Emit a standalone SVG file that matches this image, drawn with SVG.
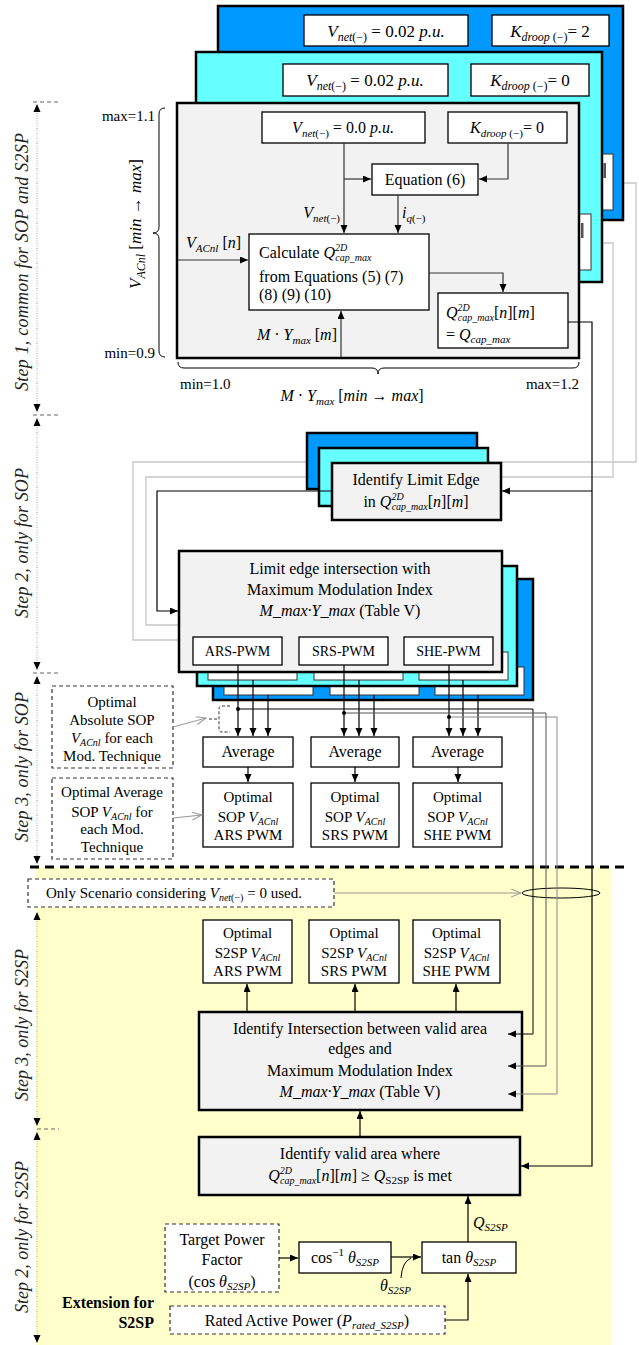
<svg xmlns="http://www.w3.org/2000/svg" width="639" height="1345" viewBox="0 0 639 1345">
<defs>
<style>
text{font-family:"Liberation Serif","Times New Roman",serif;fill:#000}
.t14{font-size:14px}.t15{font-size:15px}.t16{font-size:16px}.t17{font-size:17px}
.i{font-style:italic}
.box{fill:#fff;stroke:#000;stroke-width:1.3}
.wbox{fill:#fff;stroke:#333;stroke-width:1}
.gbox{fill:#f2f2f2;stroke:#000;stroke-width:2.5}
.cy{fill:#66ffff;stroke:#000;stroke-width:2.5}
.db{fill:#0099ff;stroke:#000;stroke-width:2.5}
.dash{fill:#fff;stroke:#333;stroke-width:1.2;stroke-dasharray:4 3}
.c{fill:none;stroke:#000;stroke-width:1.2}
.cg{fill:none;stroke:#333;stroke-width:1.2}
.lg{fill:none;stroke:#c8c8c8;stroke-width:1.3}
.step{font-size:18px;font-style:italic;fill:#222}
.dot{fill:none;stroke:#aaa;stroke-width:1;stroke-dasharray:1 1.5}
.tick{fill:none;stroke:#666;stroke-width:1.2;stroke-dasharray:4 3}
.ah{fill:#000}
</style>
<marker id="ah" markerUnits="userSpaceOnUse" markerWidth="9" markerHeight="8" refX="8" refY="3.5" orient="auto"><path d="M0,0 L8,3.5 L0,7 z" fill="#000"/></marker>
<marker id="oa" markerUnits="userSpaceOnUse" markerWidth="12" markerHeight="10" refX="10" refY="4" orient="auto"><path d="M0,0 L10,4 L0,8" fill="none" stroke="#999" stroke-width="1"/></marker>
</defs>

<rect id="s2sp-region" x="36" y="867" width="576" height="478" fill="#ffffcc"/>

<g id="step-indicators">
<path class="dot" d="M37,108 V406 M37,422 V664 M37,680 V858 M37,916 V1120 M37,1136 V1338"/>
<path class="tick" d="M33,102 H58 M33,415 H58 M33,673 H58 M37,1129 H59"/>
<path class="ah" d="M37,104 L33.5,112 L40.5,112 z M37,412 L33.5,404 L40.5,404 z M37,418 L33.5,426 L40.5,426 z M37,670 L33.5,662 L40.5,662 z M37,676 L33.5,684 L40.5,684 z M37,864 L33.5,856 L40.5,856 z M37,912 L33.5,920 L40.5,920 z M37,1126 L33.5,1118 L40.5,1118 z M37,1132 L33.5,1140 L40.5,1140 z M37,1343 L33.5,1335 L40.5,1335 z"/>
<text class="step" transform="translate(28,262) rotate(-90)" text-anchor="middle" textLength="258">Step 1, common for SOP and S2SP</text>
<text class="step" transform="translate(28,543) rotate(-90)" text-anchor="middle" textLength="150">Step 2, only for SOP</text>
<text class="step" transform="translate(28,767) rotate(-90)" text-anchor="middle" textLength="150">Step 3, only for SOP</text>
<text class="step" transform="translate(28,1025) rotate(-90)" text-anchor="middle" textLength="152">Step 3, only for S2SP</text>
<text class="step" transform="translate(28,1237) rotate(-90)" text-anchor="middle" textLength="152">Step 2, only for S2SP</text>
</g>
<path d="M30,867 H625" fill="none" stroke="#000" stroke-width="3" stroke-dasharray="9 6"/>

<g id="connectors-back">
<path class="lg" d="M613,183 H636 V462 H133 V640 H200"/>
<path class="lg" d="M591,243 H613 V477 H146 V625 H200"/>
</g>

<g id="layer-kdroop2">
<rect class="db" x="218" y="6" width="405" height="214"/>
<rect class="box" x="304" y="15" width="164" height="31"/>
<text class="t17" x="386" y="37" text-anchor="middle"><tspan class="i">V</tspan><tspan class="i" font-size="12" dy="4">net</tspan><tspan font-size="12">(−)</tspan><tspan dy="-4"> = 0.02 </tspan><tspan class="i">p.u.</tspan></text>
<rect class="box" x="492" y="15" width="117" height="31"/>
<text class="t17" x="550" y="37" text-anchor="middle"><tspan class="i">K</tspan><tspan class="i" font-size="12" dy="4">droop</tspan><tspan font-size="12"> (−)</tspan><tspan dy="-4">= 2</tspan></text>
<rect class="wbox" x="590" y="154" width="23" height="56"/>
<rect x="603.5" y="163" width="2.5" height="15" fill="#555"/>
</g>
<g id="layer-kdroop0">
<rect class="cy" x="196" y="52" width="406" height="230"/>
<rect class="box" x="283" y="64" width="165" height="32"/>
<text class="t17" x="365" y="86" text-anchor="middle"><tspan class="i">V</tspan><tspan class="i" font-size="12" dy="4">net</tspan><tspan font-size="12">(−)</tspan><tspan dy="-4"> = 0.02 </tspan><tspan class="i">p.u.</tspan></text>
<rect class="box" x="471" y="64" width="118" height="32"/>
<text class="t17" x="530" y="86" text-anchor="middle"><tspan class="i">K</tspan><tspan class="i" font-size="12" dy="4">droop</tspan><tspan font-size="12"> (−)</tspan><tspan dy="-4">= 0</tspan></text>
<rect class="wbox" x="570" y="214" width="21" height="56"/>
<rect x="581" y="223" width="2.5" height="15" fill="#555"/>
</g>
<g id="step1-main">
<rect class="gbox" x="177" y="103" width="402" height="255"/>
</g>
<g id="vnet-box">
<rect class="box" x="262" y="112" width="163" height="31"/>
<text class="t16" x="343" y="133" text-anchor="middle"><tspan class="i">V</tspan><tspan class="i" font-size="11" dy="4">net</tspan><tspan font-size="11">(−)</tspan><tspan dy="-4"> = 0.0 </tspan><tspan class="i">p.u.</tspan></text>
</g>
<g id="kdroop-box">
<rect class="box" x="448" y="112" width="119" height="31"/>
<text class="t16" x="507" y="133" text-anchor="middle"><tspan class="i">K</tspan><tspan class="i" font-size="11" dy="4">droop</tspan><tspan font-size="11"> (−)</tspan><tspan dy="-4">= 0</tspan></text>
</g>
<g id="equation6">
<rect class="box" x="372" y="164" width="106" height="31"/>
<text class="t16" x="425" y="185" text-anchor="middle">Equation (6)</text>
</g>
<g id="calculate">
<rect class="box" x="249" y="234" width="180" height="76"/>
<text class="t16" x="259" y="258">Calculate <tspan class="i">Q</tspan><tspan class="i" font-size="10" dy="-7">2D</tspan><tspan class="i" font-size="10" dx="-12" dy="10">cap_max</tspan></text>
<text class="t16" x="259" y="282">from Equations (5) (7)</text>
<text class="t16" x="259" y="300">(8) (9) (10)</text>
</g>
<g id="qcap">
<rect class="box" x="438" y="293" width="130" height="55"/>
<text class="t16" x="446" y="318"><tspan class="i">Q</tspan><tspan class="i" font-size="10" dy="-7">2D</tspan><tspan class="i" font-size="10" dx="-12" dy="10">cap_max</tspan><tspan dy="-3">[</tspan><tspan class="i">n</tspan>][<tspan class="i">m</tspan>]</text>
<text class="t16" x="446" y="340">=  <tspan class="i">Q</tspan><tspan class="i" font-size="11" dy="3">cap_max</tspan></text>
</g>
<g id="step1-labels">
<text class="t16" x="340" y="218" text-anchor="end"><tspan class="i">V</tspan><tspan class="i" font-size="11" dy="4">net</tspan><tspan font-size="11">(−)</tspan></text>
<text class="t16" x="402" y="218"><tspan class="i">i</tspan><tspan class="i" font-size="11" dy="4">q</tspan><tspan font-size="11">(−)</tspan></text>
<text class="t16" x="186" y="248"><tspan class="i">V</tspan><tspan class="i" font-size="11" dy="4">ACnl</tspan><tspan dy="-4"> [</tspan><tspan class="i">n</tspan>]</text>
<text class="t16" x="337" y="340" text-anchor="end"><tspan class="i">M</tspan> · <tspan class="i">Y</tspan><tspan class="i" font-size="11" dy="4">max</tspan><tspan dy="-4"> [</tspan><tspan class="i">m</tspan>]</text>
<text class="t15" x="155" y="121" text-anchor="end">max=1.1</text>
<text class="t15" x="155" y="358" text-anchor="end">min=0.9</text>
<text class="t17" transform="translate(141,224) rotate(-90)" text-anchor="middle"><tspan class="i">V</tspan><tspan class="i" font-size="12" dy="4">ACnl</tspan><tspan dy="-4"> [</tspan><tspan class="i">min</tspan> → <tspan class="i">max</tspan>]</text>
<path d="M165,108 Q159,108 159,114 V227 Q159,233 153,233 Q159,233 159,239 V351 Q159,357 165,357" fill="none" stroke="#000" stroke-width="1"/>
<path d="M178,362 Q178,368 184,368 H372 Q378,368 378,374 Q378,368 384,368 H573 Q579,368 579,362" fill="none" stroke="#000" stroke-width="1"/>
<text class="t15" x="180" y="389">min=1.0</text>
<text class="t15" x="579" y="389" text-anchor="end">max=1.2</text>
<text class="t16" x="352" y="401" text-anchor="middle"><tspan class="i">M</tspan> · <tspan class="i">Y</tspan><tspan class="i" font-size="11" dy="4">max</tspan><tspan dy="-4"> [</tspan><tspan class="i">min</tspan> → <tspan class="i">max</tspan>]</text>
</g>

<g id="identify-limit-edge">
<rect class="db" x="307" y="433" width="170" height="56"/>
<rect class="cy" x="319" y="448" width="169" height="58"/>
<rect class="gbox" x="332" y="463" width="169" height="57"/>
<text class="t16" x="416" y="485" text-anchor="middle">Identify Limit Edge</text>
<text class="t16" x="416" y="507" text-anchor="middle">in <tspan class="i">Q</tspan><tspan class="i" font-size="10" dy="-7">2D</tspan><tspan class="i" font-size="10" dx="-12" dy="10">cap_max</tspan><tspan dy="-3">[</tspan><tspan class="i">n</tspan>][<tspan class="i">m</tspan>]</text>
</g>

<g id="limit-edge-intersection">
<rect class="db" x="213" y="579" width="320" height="121"/>
<rect class="wbox" x="224" y="667" width="89" height="28"/>
<rect class="wbox" x="330" y="667" width="89" height="28"/>
<rect class="wbox" x="435" y="667" width="89" height="28"/>
<rect class="cy" x="197" y="566" width="320" height="120"/>
<rect class="wbox" x="208" y="652" width="89" height="28"/>
<rect class="wbox" x="314" y="652" width="89" height="28"/>
<rect class="wbox" x="419" y="652" width="89" height="28"/>
<rect class="gbox" x="179" y="551" width="323" height="121"/>
<text class="t16" x="340" y="574" text-anchor="middle">Limit edge intersection with</text>
<text class="t16" x="340" y="595" text-anchor="middle">Maximum Modulation Index</text>
<text class="t16" x="340" y="616" text-anchor="middle"><tspan class="i">M_max·Y_max</tspan> (Table V)</text>
</g>
<g id="ars-pwm"><rect class="box" x="193" y="637" width="89" height="28"/><text class="t14" x="237.5" y="656" text-anchor="middle">ARS-PWM</text></g>
<g id="srs-pwm"><rect class="box" x="299" y="637" width="89" height="28"/><text class="t14" x="343.5" y="656" text-anchor="middle">SRS-PWM</text></g>
<g id="she-pwm"><rect class="box" x="404" y="637" width="89" height="28"/><text class="t14" x="448.5" y="656" text-anchor="middle">SHE-PWM</text></g>

<g id="note-absolute">
<rect class="dash" x="52" y="686" width="121" height="82"/>
<text class="t15" x="112" y="707" text-anchor="middle">Optimal</text>
<text class="t15" x="112" y="725" text-anchor="middle">Absolute SOP</text>
<text class="t15" x="112" y="743" text-anchor="middle"><tspan class="i">V</tspan><tspan class="i" font-size="10" dy="3">ACnl</tspan><tspan dy="-3">  for each</tspan></text>
<text class="t15" x="112" y="761" text-anchor="middle">Mod. Technique</text>
</g>
<g id="note-average">
<rect class="dash" x="52" y="778" width="121" height="81"/>
<text class="t15" x="112" y="797" text-anchor="middle">Optimal Average</text>
<text class="t15" x="112" y="817" text-anchor="middle">SOP <tspan class="i">V</tspan><tspan class="i" font-size="10" dy="3">ACnl</tspan><tspan dy="-3">  for</tspan></text>
<text class="t15" x="112" y="834" text-anchor="middle">each Mod.</text>
<text class="t15" x="112" y="852" text-anchor="middle">Technique</text>
</g>
<g id="avg-ars"><rect class="box" x="203" y="737" width="90" height="30"/><text class="t16" x="248" y="757" text-anchor="middle">Average</text></g>
<g id="avg-srs"><rect class="box" x="311" y="737" width="88" height="30"/><text class="t16" x="355" y="757" text-anchor="middle">Average</text></g>
<g id="avg-she"><rect class="box" x="413" y="737" width="89" height="30"/><text class="t16" x="457.5" y="757" text-anchor="middle">Average</text></g>
<g id="sop-ars"><rect class="box" x="203" y="783" width="90" height="64"/>
<text class="t15" x="248" y="802" text-anchor="middle">Optimal</text>
<text class="t15" x="248" y="822" text-anchor="middle">SOP <tspan class="i">V</tspan><tspan class="i" font-size="10" dy="3">ACnl</tspan></text>
<text class="t15" x="248" y="840" text-anchor="middle">ARS PWM</text></g>
<g id="sop-srs"><rect class="box" x="311" y="783" width="88" height="64"/>
<text class="t15" x="355" y="802" text-anchor="middle">Optimal</text>
<text class="t15" x="355" y="822" text-anchor="middle">SOP <tspan class="i">V</tspan><tspan class="i" font-size="10" dy="3">ACnl</tspan></text>
<text class="t15" x="355" y="840" text-anchor="middle">SRS PWM</text></g>
<g id="sop-she"><rect class="box" x="413" y="783" width="89" height="64"/>
<text class="t15" x="457.5" y="802" text-anchor="middle">Optimal</text>
<text class="t15" x="457.5" y="822" text-anchor="middle">SOP <tspan class="i">V</tspan><tspan class="i" font-size="10" dy="3">ACnl</tspan></text>
<text class="t15" x="457.5" y="840" text-anchor="middle">SHE PWM</text></g>

<g id="note-scenario">
<rect class="dash" x="28" y="879" width="306" height="28"/>
<text class="t15" x="46" y="898">Only Scenario considering  <tspan class="i">V</tspan><tspan class="i" font-size="10" dy="3">net</tspan><tspan font-size="10">(−)</tspan><tspan dy="-3"> = 0 used.</tspan></text>
</g>
<ellipse id="scenario-ellipse" cx="561" cy="893" rx="39" ry="5" fill="none" stroke="#000" stroke-width="1"/>
<g id="s2sp-ars"><rect class="box" x="203" y="920" width="89" height="63"/>
<text class="t15" x="247.5" y="938" text-anchor="middle">Optimal</text>
<text class="t15" x="247.5" y="958" text-anchor="middle">S2SP <tspan class="i">V</tspan><tspan class="i" font-size="10" dy="3">ACnl</tspan></text>
<text class="t15" x="247.5" y="976" text-anchor="middle">ARS PWM</text></g>
<g id="s2sp-srs"><rect class="box" x="309" y="920" width="90" height="63"/>
<text class="t15" x="354" y="938" text-anchor="middle">Optimal</text>
<text class="t15" x="354" y="958" text-anchor="middle">S2SP <tspan class="i">V</tspan><tspan class="i" font-size="10" dy="3">ACnl</tspan></text>
<text class="t15" x="354" y="976" text-anchor="middle">SRS PWM</text></g>
<g id="s2sp-she"><rect class="box" x="413" y="920" width="87" height="63"/>
<text class="t15" x="456.5" y="938" text-anchor="middle">Optimal</text>
<text class="t15" x="456.5" y="958" text-anchor="middle">S2SP <tspan class="i">V</tspan><tspan class="i" font-size="10" dy="3">ACnl</tspan></text>
<text class="t15" x="456.5" y="976" text-anchor="middle">SHE PWM</text></g>
<g id="identify-intersection">
<rect class="gbox" x="199" y="1012" width="323" height="98"/>
<text class="t16" x="360" y="1034" text-anchor="middle">Identify Intersection between valid  area</text>
<text class="t16" x="360" y="1054" text-anchor="middle">edges and</text>
<text class="t16" x="360" y="1076" text-anchor="middle">Maximum Modulation Index</text>
<text class="t16" x="360" y="1097" text-anchor="middle"><tspan class="i">M_max·Y_max</tspan> (Table V)</text>
</g>
<g id="identify-valid-area">
<rect class="gbox" x="199" y="1137" width="321" height="58"/>
<text class="t16" x="360" y="1159" text-anchor="middle">Identify valid  area where</text>
<text class="t16" x="360" y="1181" text-anchor="middle"><tspan class="i">Q</tspan><tspan class="i" font-size="10" dy="-7">2D</tspan><tspan class="i" font-size="10" dx="-12" dy="10">cap_max</tspan><tspan dy="-3">[</tspan><tspan class="i">n</tspan>][<tspan class="i">m</tspan>] ≥ <tspan class="i">Q</tspan><tspan font-size="11" dy="3">S2SP</tspan><tspan dy="-3">  is met</tspan></text>
</g>
<g id="target-pf">
<rect class="dash" x="165" y="1224" width="114" height="68"/>
<text class="t16" x="222" y="1245" text-anchor="middle">Target Power</text>
<text class="t16" x="222" y="1265" text-anchor="middle">Factor</text>
<text class="t16" x="222" y="1287" text-anchor="middle">(cos <tspan class="i">θ</tspan><tspan class="i" font-size="11" dy="3">S2SP</tspan><tspan dy="-3">)</tspan></text>
</g>
<g id="acos">
<rect class="box" x="299" y="1242" width="92" height="31"/>
<text class="t16" x="345" y="1263" text-anchor="middle">cos<tspan font-size="11" dy="-7">−1</tspan><tspan dy="7"> </tspan><tspan class="i">θ</tspan><tspan class="i" font-size="11" dy="3">S2SP</tspan></text>
</g>
<g id="tan">
<rect class="box" x="422" y="1242" width="94" height="31"/>
<text class="t16" x="469" y="1263" text-anchor="middle">tan <tspan class="i">θ</tspan><tspan class="i" font-size="11" dy="3">S2SP</tspan></text>
</g>
<g id="rated-power">
<rect class="dash" x="170" y="1306" width="275" height="28"/>
<text class="t16" x="307" y="1326" text-anchor="middle">Rated Active Power (<tspan class="i">P</tspan><tspan class="i" font-size="11" dy="3">rated_S2SP</tspan><tspan dy="-3">)</tspan></text>
</g>
<g id="s2sp-labels">
<text class="t16" x="473" y="1228"><tspan class="i">Q</tspan><tspan class="i" font-size="11" dy="3">S2SP</tspan></text>
<text class="t16" x="380" y="1291"><tspan class="i">θ</tspan><tspan class="i" font-size="11" dy="3">S2SP</tspan></text>
<text class="t16" x="154" y="1308" text-anchor="end" font-weight="bold">Extension for</text>
<text class="t16" x="154" y="1328" text-anchor="end" font-weight="bold">S2SP</text>
</g>

<g id="connectors">
<path class="cg" d="M344,143 V233" marker-end="url(#ah)"/>
<path class="cg" d="M344,179 H371" marker-end="url(#ah)"/>
<path class="cg" d="M508,143 V179 H479" marker-end="url(#ah)"/>
<path class="cg" d="M398,195 V233" marker-end="url(#ah)"/>
<path class="cg" d="M178,260 H248" marker-end="url(#ah)"/>
<path class="cg" d="M341,357 V311" marker-end="url(#ah)"/>
<path class="cg" d="M429,273 H503 V292" marker-end="url(#ah)"/>
<path class="c" d="M568,322 H592 V1166 H521" marker-end="url(#ah)"/>
<path class="c" d="M592,491 H502" marker-end="url(#ah)"/>
<path class="c" d="M332,491 H157 V611 H178" marker-end="url(#ah)"/>
<path class="c" d="M238,665 V736" marker-end="url(#ah)"/>
<path class="c" d="M253,680 V736" marker-end="url(#ah)"/>
<path class="c" d="M268,695 V736" marker-end="url(#ah)"/>
<path class="c" d="M344,665 V736" marker-end="url(#ah)"/>
<path class="c" d="M359,680 V736" marker-end="url(#ah)"/>
<path class="c" d="M374,695 V736" marker-end="url(#ah)"/>
<path class="c" d="M449,665 V736" marker-end="url(#ah)"/>
<path class="c" d="M463,680 V736" marker-end="url(#ah)"/>
<path class="c" d="M478,695 V736" marker-end="url(#ah)"/>
<path fill="none" stroke="#000" stroke-width="1" d="M238,709 H533 V1034 H508" marker-end="url(#ah)"/>
<path fill="none" stroke="#555" stroke-width="1" d="M344,713 H546 V1066 H508" marker-end="url(#ah)"/>
<path fill="none" stroke="#888" stroke-width="1" d="M449,717 H557 V1094 H508" marker-end="url(#ah)"/>
<circle cx="238" cy="709" r="2"/>
<circle cx="344" cy="713" r="2"/>
<circle cx="449" cy="717" r="2"/>
<path class="c" d="M248,767 V782" marker-end="url(#ah)"/>
<path class="c" d="M355,767 V782" marker-end="url(#ah)"/>
<path class="c" d="M458,767 V782" marker-end="url(#ah)"/>
<path d="M230,706 H222 Q219,706 219,709 V729 Q219,732 222,732 H230 M209,719 H218" fill="none" stroke="#333" stroke-width="1" stroke-dasharray="3 2"/>
<path d="M173,727 L206,718" fill="none" stroke="#999" stroke-width="1" marker-end="url(#oa)"/>
<path d="M173,818 L202,815" fill="none" stroke="#999" stroke-width="1" marker-end="url(#oa)"/>
<path d="M334,893 H521" fill="none" stroke="#999" stroke-width="1" marker-end="url(#oa)"/>
<path class="c" d="M247,1012 V984" marker-end="url(#ah)"/>
<path class="c" d="M355,1012 V984" marker-end="url(#ah)"/>
<path class="c" d="M456,1012 V984" marker-end="url(#ah)"/>
<path class="c" d="M360,1137 V1111" marker-end="url(#ah)"/>
<path class="c" d="M468,1242 V1196" marker-end="url(#ah)"/>
<path class="c" d="M279,1258 H298" marker-end="url(#ah)"/>
<path class="c" d="M391,1257 H421" marker-end="url(#ah)"/>
<path class="c" d="M445,1320 H468 V1274" marker-end="url(#ah)"/>
<path d="M401,1278 Q402,1262 411,1258" fill="none" stroke="#000" stroke-width="1"/>
</g>
</svg>
